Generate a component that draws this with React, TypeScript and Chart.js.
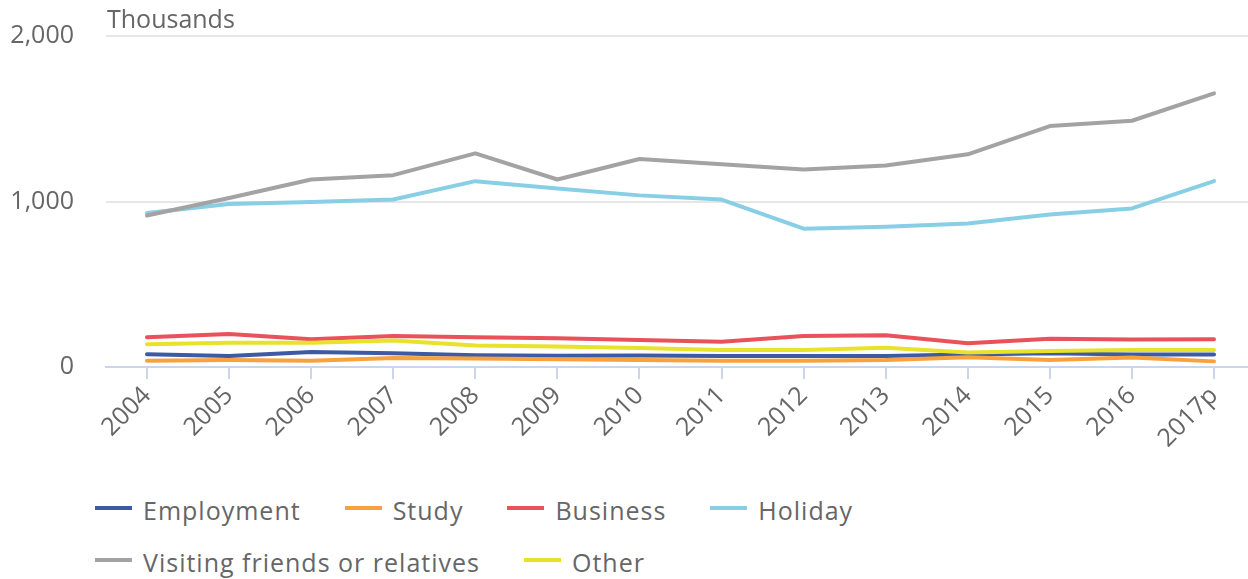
import React, { useEffect, useRef } from 'react';
import { Chart, registerables } from 'chart.js';

Chart.register(...registerables);

// ---- data ----
const years = ['2004', '2005', '2006', '2007', '2008', '2009', '2010', '2011', '2012', '2013', '2014', '2015', '2016', '2017p'];
const seriesNames = ['Employment', 'Study', 'Business', 'Holiday', 'Visiting friends or relatives', 'Other'];
const employment = [77, 67, 91, 83, 71, 68, 69, 67, 67, 67, 75, 83, 75, 75];
const study = [38, 42, 38, 55, 51, 47, 42, 38, 38, 42, 59, 42, 57, 34];
const business = [180, 200, 168, 188, 180, 174, 163, 152, 188, 192, 143, 170, 166, 168];
const holiday = [931, 985, 997, 1012, 1123, 1079, 1037, 1012, 836, 847, 867, 921, 958, 1123];
const visiting = [915, 1021, 1133, 1159, 1291, 1133, 1257, 1225, 1194, 1218, 1285, 1456, 1488, 1653];
const other = [137, 147, 147, 160, 130, 124, 115, 103, 103, 117, 87, 97, 103, 103];
const yTicks = [0, 1000, 2000];
const unitLabel = 'Thousands';

const colors = ['#3c5ba4', '#f7a13f', '#e9525a', '#88cfe6', '#a3a3a3', '#e8e22b'];
const FONT = '"Open Sans", "Noto Sans", sans-serif';
const TEXT = '#666666';

const unitPlugin = {
  id: 'unitLabel',
  afterDraw(chart: any) {
    const { ctx, chartArea } = chart;
    ctx.save();
    ctx.font = `25px ${FONT}`;
    ctx.fillStyle = TEXT;
    ctx.textAlign = 'left';
    ctx.textBaseline = 'alphabetic';
    ctx.fillText(unitLabel, chartArea.left + 1, 28);
    ctx.restore();
  },
};

export default function App() {
  const ref = useRef<HTMLCanvasElement>(null);

  useEffect(() => {
    document.body.style.margin = '0';
    const all = [employment, study, business, holiday, visiting, other];
    const chart = new Chart(ref.current as HTMLCanvasElement, {
      type: 'line',
      data: {
        datasets: seriesNames.map((name, i) => ({
          label: name,
          data: all[i].map((v, j) => ({ x: j, y: v })),
          borderColor: colors[i],
          backgroundColor: colors[i],
          borderWidth: 4,
          pointRadius: 0,
          pointHoverRadius: 0,
          tension: 0,
          order: seriesNames.length - i,
          borderCapStyle: 'round',
          borderJoinStyle: 'round',
        })),
      },
      options: {
        animation: false,
        responsive: false,
        maintainAspectRatio: false,
        layout: { padding: { top: 36, left: 0, right: 0, bottom: 0 } },
        plugins: {
          legend: { display: false },
          tooltip: { enabled: false },
        },
        scales: {
          x: {
            type: 'linear',
            min: -0.4995,
            max: 13.414,
            afterFit: (s: any) => { s.height = 103; },
            afterBuildTicks: (s: any) => { s.ticks = years.map((_, i) => ({ value: i })); },
            border: { color: '#ccd6eb', width: 2 },
            grid: { drawOnChartArea: false, color: '#ccd6eb', lineWidth: 2, tickLength: 12 },
            ticks: {
              autoSkip: false,
              minRotation: 45,
              maxRotation: 45,
              padding: 2,
              color: TEXT,
              font: { family: FONT, size: 25 },
              callback: (v: any) => years[v] ?? '',
            },
          },
          y: {
            min: 0,
            max: 2000,
            afterFit: (s: any) => { s.width = 106; },
            afterBuildTicks: (s: any) => { s.ticks = yTicks.map((v) => ({ value: v })); },
            border: { display: false },
            grid: {
              drawTicks: true,
              tickLength: 32,
              tickColor: 'rgba(0,0,0,0)',
              lineWidth: 2,
              color: (c: any) => (c.tick && c.tick.value === 0 ? 'rgba(0,0,0,0)' : '#e6e6e6'),
            },
            ticks: {
              padding: 0,
              color: TEXT,
              font: { family: FONT, size: 25 },
              callback: (v: any) => Number(v).toLocaleString('en-US'),
            },
          },
        },
      } as any,
      plugins: [unitPlugin],
    });
    return () => chart.destroy();
  }, []);

  return (
    <div style={{ position: 'relative', width: 1248, height: 579, overflow: 'hidden', background: '#fff' }}>
      <canvas ref={ref} width={1248} height={470} style={{ position: 'absolute', left: 0, top: 0, display: 'block' }} />
      <div
        style={{
          position: 'absolute',
          left: 95,
          top: 495,
          width: 900,
          display: 'flex',
          flexWrap: 'wrap',
          columnGap: 44,
          rowGap: 22,
        }}
      >
        {seriesNames.map((name, i) => (
          <div key={name} style={{ display: 'flex', alignItems: 'center', height: 30 }}>
            <span
              style={{
                display: 'inline-block',
                width: 37,
                height: 4,
                background: colors[i],
                marginRight: 11,
                transform: 'translateY(-2px)',
              }}
            />
            <span style={{ fontFamily: FONT, fontSize: 25, lineHeight: '30px', color: TEXT, letterSpacing: '1px', whiteSpace: 'nowrap' }}>
              {name}
            </span>
          </div>
        ))}
      </div>
    </div>
  );
}
